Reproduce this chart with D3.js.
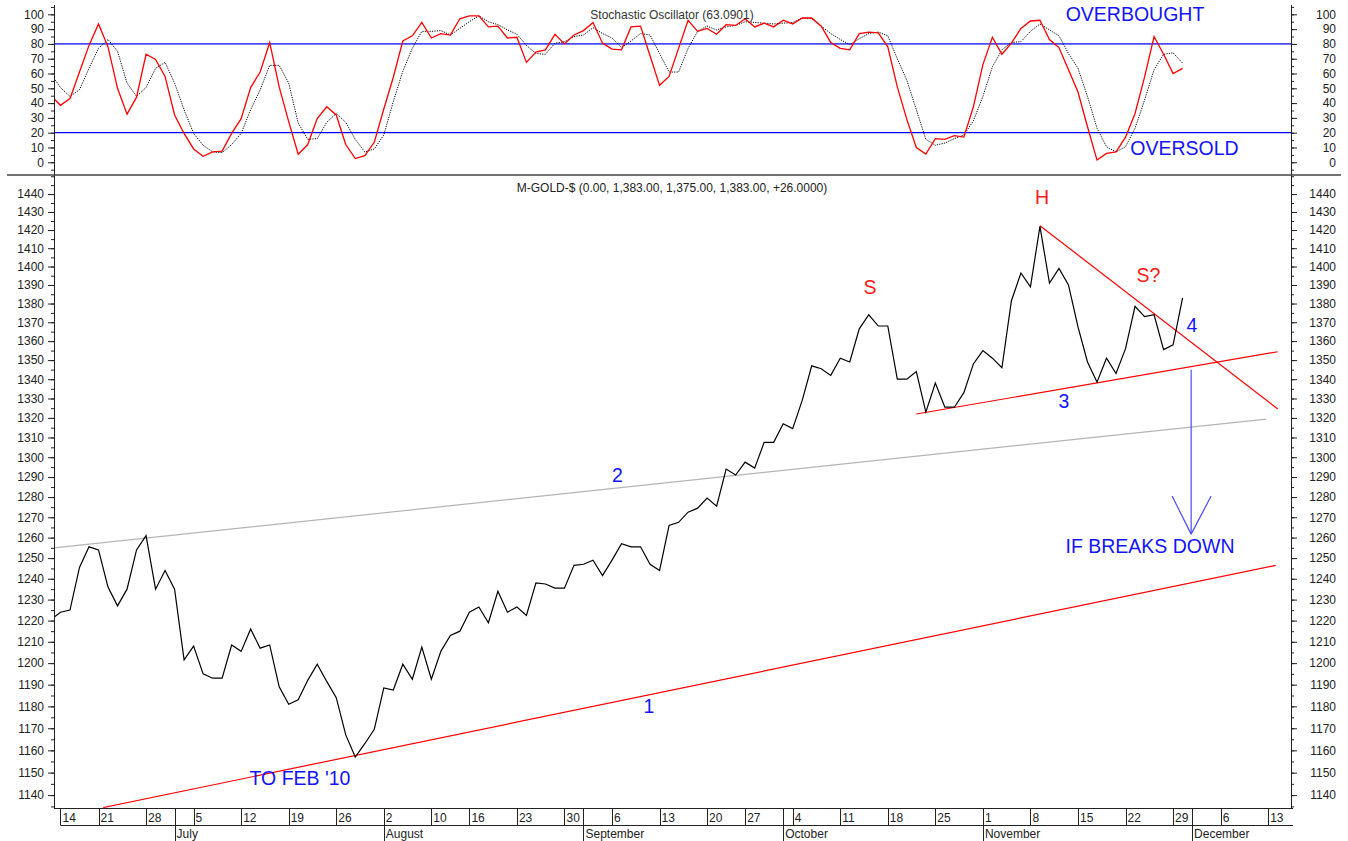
<!DOCTYPE html>
<html lang="en">
<head>
<meta charset="UTF-8">
<title>M-GOLD-$ with Stochastic Oscillator</title>
<script src="https://d3js.org/d3.v7.min.js"></script>
<style>
  body { margin: 0; background: #fff; }
  svg { display: block; background: #fff; font-family: "Liberation Sans", Arial, sans-serif; }
  .tick line { stroke: #222; }
  .tick text { fill: #222; font-size: 12px; }
</style>
</head>
<body>
<svg width="1348" height="841"></svg>
<script>
// trading-day index of the first value (index 0 = Jun 14)
const firstIndex = -1;

// daily close, M-GOLD-$
const price = [
  1220.5, 1224, 1225, 1245.5, 1255.5, 1254, 1236, 1227, 1235, 1254,
  1261, 1235, 1244, 1235, 1201.5, 1208, 1195, 1193, 1193, 1208.5,
  1205.5, 1216, 1207, 1208.5, 1189, 1181, 1183, 1192, 1199.5, 1191.5,
  1184, 1167, 1157, 1163, 1169.5, 1188.5, 1187.5, 1199.5, 1192.5, 1207.5,
  1192.5, 1205.5, 1213, 1215, 1224, 1226.5, 1219, 1234, 1224, 1226.5,
  1222.5, 1238, 1237.5, 1235.5, 1235.5, 1246.5, 1247, 1249, 1241.5, 1249,
  1257, 1255.5, 1255.5, 1247, 1244, 1266, 1267.5, 1272.5, 1274.5, 1279.5,
  1275.5, 1294, 1291, 1297.5, 1294.5, 1307.5, 1307.5, 1317, 1314.5, 1329,
  1347, 1345.5, 1342, 1351, 1349, 1366.5, 1374, 1368, 1368, 1340,
  1340, 1344, 1323, 1338, 1325.5, 1325.5, 1333, 1348, 1355, 1351,
  1346, 1381.5, 1396.5, 1389, 1422, 1391, 1399, 1390, 1367.5, 1349,
  1338.5, 1351, 1343, 1356, 1378.5, 1373, 1374, 1355.5, 1358, 1383
];

// stochastic %K (red)
const stochK = [
  45, 38.5, 43, 61, 79, 93.5, 78, 50, 32.5, 44,
  73, 69.5, 58, 32, 19.5, 9, 4, 7, 7.5, 19.5,
  29.5, 50.5, 61, 81, 51, 27.5, 5.5, 12, 29.5, 37.5,
  32, 12, 2.5, 4.5, 13.5, 36, 57.5, 82, 85.5, 94.5,
  84, 87, 86, 97, 99, 99, 91.5, 92, 84, 84.5,
  67.5, 74.5, 76, 86.5, 80, 86, 89, 94.5, 80.5, 76.5,
  76, 91.5, 92, 72, 52, 58, 77, 96, 88.5, 90.5,
  86.5, 93, 92.5, 97, 91.5, 94, 91.5, 96, 93.5, 97.5,
  97.5, 92, 81, 77, 76, 87, 88, 87.5, 78, 51,
  29, 10, 5.5, 16, 15.5, 18, 17, 37.5, 66, 84.5,
  73, 80.5, 90.5, 95.5, 96, 83, 77.5, 62.5, 47.5, 24,
  1.5, 6, 7, 17, 33, 57.5, 85, 73, 60, 63.5
];

// stochastic %D (black dotted)
const stochD = [
  59.7, 50.5, 44.5, 49, 63.5, 77, 83, 75, 53.5, 44.5,
  50.5, 63.5, 67.5, 53.5, 35.5, 19.5, 11.5, 7, 6.5, 12,
  19.5, 35.5, 49, 65.5, 65.5, 53.5, 26.5, 15.5, 16, 27,
  33, 27, 15.5, 7, 9, 18.5, 41, 61.5, 77, 88.5,
  88.5, 89, 86, 90.5, 95, 99, 95, 93, 89.5, 86.5,
  79, 73.5, 73, 80.5, 81.5, 85, 86, 91, 87, 84,
  77.5, 82, 87, 86, 73.5, 61, 61, 77, 88.5, 92,
  89.5, 91.5, 92.5, 95, 94.5, 94, 93.5, 94, 94.5, 97.5,
  97, 92, 87, 83, 79.5, 83.5, 87, 88, 85.5, 70,
  55.5, 35.5, 15.5, 11.5, 13, 16, 18.5, 28, 44.5, 64.5,
  76, 81, 81.5, 88.5, 93.5, 89.5, 85.5, 73.5, 63.5, 44.5,
  23, 10.5, 7, 10.5, 23, 42, 62.5, 73, 74, 67
];

// x-axis: [trading-day index, label]
const weekTicks = [
  [0, "14"], [4, "21"], [9, "28"], [14, "5"], [19, "12"], [24, "19"], [29, "26"],
  [34, "2"], [39, "10"], [43, "16"], [48, "23"], [53, "30"], [58, "6"], [63, "13"],
  [68, "20"], [72, "27"], [77, "4"], [82, "11"], [87, "18"], [92, "25"], [97, "1"],
  [102, "8"], [107, "15"], [112, "22"], [117, "29"], [122, "6"], [127, "13"]
];
const monthTicks = [
  [12, "July"], [34, "August"], [55, "September"], [76, "October"],
  [97, "November"], [119, "December"]
];

const priceTicks = d3.range(1140, 1441, 10);
const priceMinor = d3.range(1135, 1451, 5);
const stochTicks = d3.range(0, 101, 10);
const stochMinor = d3.range(-5, 106, 5);
const stochLevels = [80, 20];

// drawn trend lines: [index, price] end points
const trendLines = [
  { from: [4.5, 1134.5], to: [127.8, 1246.5], color: "#ff0000" },   // 1
  { from: [-0.68, 1255], to: [126.8, 1319.4], color: "#b4b4b4" },   // 2
  { from: [90, 1322], to: [128, 1354.4], color: "#ff0000" },        // 3
  { from: [103, 1422.4], to: [128, 1324.6], color: "#ff0000" }      // 4
];
// target arrow: index, top, tip, wing level, wing indices
const arrow = { i: 118.9, top: 1345, tip: 1261.7, wing: 1280.5, wingL: 116.9, wingR: 121 };

const svg = d3.select("svg");
const xL = 54, xR = 1291;
const stochTop = 5, panelSplit = 175, priceBottom = 808;

const x = d3.scaleLinear().domain([-0.68, 129.4]).range([xL, xR]);
const yS = d3.scaleLinear().domain([-8.6, 106.3]).range([panelSplit, stochTop]);
const yP = d3.scaleLog().domain([1134.3, 1450.7]).range([priceBottom, panelSplit]);

const defs = svg.append("defs");
defs.append("clipPath").attr("id", "clipS").append("rect")
  .attr("x", xL).attr("y", stochTop).attr("width", xR - xL).attr("height", panelSplit - stochTop);
defs.append("clipPath").attr("id", "clipP").append("rect")
  .attr("x", xL).attr("y", panelSplit).attr("width", xR - xL).attr("height", priceBottom - panelSplit);

const idx = (d, i) => x(firstIndex + i);

// ---- stochastic panel ----
const gS = svg.append("g").attr("clip-path", "url(#clipS)");

gS.selectAll(".level").data(stochLevels).enter().append("line")
  .attr("x1", xL).attr("x2", xR)
  .attr("y1", d => yS(d)).attr("y2", d => yS(d))
  .attr("stroke", d => d === 80 ? "#4a4aff" : "#0000ff")
  .attr("stroke-width", d => d === 80 ? 1.6 : 1.3);

gS.append("path").datum(stochD)
  .attr("fill", "none").attr("stroke", "#000").attr("stroke-width", 1)
  .attr("stroke-dasharray", "1.2 1.2")
  .attr("d", d3.line().x(idx).y(d => yS(d)));

gS.append("path").datum(stochK)
  .attr("fill", "none").attr("stroke", "#ff0000").attr("stroke-width", 1.3)
  .attr("d", d3.line().x(idx).y(d => yS(d)));

svg.append("text").attr("x", 672).attr("y", 18.5).attr("text-anchor", "middle")
  .attr("font-size", 12).attr("fill", "#333").text("Stochastic Oscillator (63.0901)");

// ---- price panel ----
const gP = svg.append("g").attr("clip-path", "url(#clipP)");

gP.selectAll(".trend").data(trendLines).enter().append("line")
  .attr("x1", d => x(d.from[0])).attr("y1", d => yP(d.from[1]))
  .attr("x2", d => x(d.to[0])).attr("y2", d => yP(d.to[1]))
  .attr("stroke", d => d.color).attr("stroke-width", 1.2);

gP.append("path").datum(price)
  .attr("fill", "none").attr("stroke", "#000").attr("stroke-width", 1.2)
  .attr("d", d3.line().x(idx).y(d => yP(d)));

const ga = gP.append("g").attr("stroke", "#4a4aff").attr("stroke-width", 1.2);
ga.append("line").attr("x1", x(arrow.i)).attr("x2", x(arrow.i))
  .attr("y1", yP(arrow.top)).attr("y2", yP(arrow.tip));
ga.append("line").attr("x1", x(arrow.wingL)).attr("y1", yP(arrow.wing))
  .attr("x2", x(arrow.i)).attr("y2", yP(arrow.tip));
ga.append("line").attr("x1", x(arrow.wingR)).attr("y1", yP(arrow.wing))
  .attr("x2", x(arrow.i)).attr("y2", yP(arrow.tip));

svg.append("text").attr("x", 672).attr("y", 192).attr("text-anchor", "middle")
  .attr("font-size", 12).attr("fill", "#222")
  .text("M-GOLD-$ (0.00, 1,383.00, 1,375.00, 1,383.00, +26.0000)");

// annotations
const notes = [
  ["OVERBOUGHT", 1135, 21, "#1414ff"], ["OVERSOLD", 1184.5, 155, "#1414ff"],
  ["S", 870, 294, "#ff1a1a"], ["H", 1042, 204, "#ff1a1a"], ["S?", 1148.5, 282, "#ff1a1a"],
  ["4", 1192, 332, "#1414ff"], ["3", 1064, 408, "#1414ff"], ["2", 617.5, 482, "#1414ff"],
  ["1", 649, 713, "#1414ff"], ["TO FEB '10", 300, 785, "#1414ff"],
  ["IF BREAKS DOWN", 1150, 553, "#1414ff"]
];
svg.selectAll(".note").data(notes).enter().append("text")
  .attr("x", d => d[1]).attr("y", d => d[2]).attr("text-anchor", "middle")
  .attr("font-size", 19.5).attr("fill", d => d[3]).text(d => d[0]);

// ---- axes ----
function yAxes(scale, major, minor, top, bottom, fmt) {
  const left = svg.append("g").attr("transform", `translate(${xL},0)`);
  left.call(d3.axisLeft(scale).tickValues(minor).tickSize(3).tickFormat(""));
  left.call(g => g.select(".domain").remove());
  const leftMaj = svg.append("g").attr("transform", `translate(${xL},0)`);
  leftMaj.call(d3.axisLeft(scale).tickValues(major).tickSize(6).tickPadding(4).tickFormat(fmt));
  leftMaj.call(g => g.select(".domain").remove());

  const right = svg.append("g").attr("transform", `translate(${xR},0)`);
  right.call(d3.axisRight(scale).tickValues(minor).tickSize(3).tickFormat(""));
  right.call(g => g.select(".domain").remove());
  const rightMaj = svg.append("g").attr("transform", `translate(${xR},0)`);
  rightMaj.call(d3.axisRight(scale).tickValues(major).tickSize(6).tickFormat(fmt));
  rightMaj.call(g => g.select(".domain").remove());
  rightMaj.selectAll("text").attr("text-anchor", "end").attr("x", 45);

  [xL, xR].forEach(px => svg.append("line")
    .attr("x1", px + 0.5).attr("x2", px + 0.5).attr("y1", top).attr("y2", bottom)
    .attr("stroke", "#222").attr("stroke-width", 1));
}
yAxes(yS, stochTicks, stochMinor, stochTop, panelSplit, d3.format("d"));
yAxes(yP, priceTicks, priceMinor, panelSplit, priceBottom, d3.format("d"));

svg.selectAll(".tick text").attr("font-size", 12);

// panel separator
svg.append("line").attr("x1", 7).attr("x2", 1341).attr("y1", panelSplit).attr("y2", panelSplit)
  .attr("stroke", "#444").attr("stroke-width", 1.5);

// date rows
const rowTop = priceBottom, rowMid = 825, rowBot = 841;
svg.append("line").attr("x1", xL).attr("x2", xR + 2).attr("y1", rowTop + 0.5).attr("y2", rowTop + 0.5)
  .attr("stroke", "#222");
svg.append("line").attr("x1", x(0)).attr("x2", xR + 2).attr("y1", rowMid + 0.5).attr("y2", rowMid + 0.5)
  .attr("stroke", "#222");

const gW = svg.append("g");
gW.selectAll("line").data(weekTicks).enter().append("line")
  .attr("x1", d => Math.round(x(d[0])) + 0.5).attr("x2", d => Math.round(x(d[0])) + 0.5)
  .attr("y1", rowTop).attr("y2", rowMid).attr("stroke", "#222");
gW.selectAll("text").data(weekTicks).enter().append("text")
  .attr("x", d => x(d[0]) + 2).attr("y", 822).attr("font-size", 12).attr("fill", "#222")
  .text(d => d[1]);

const gM = svg.append("g");
gM.selectAll("line").data(monthTicks).enter().append("line")
  .attr("x1", d => Math.round(x(d[0])) + 0.5).attr("x2", d => Math.round(x(d[0])) + 0.5)
  .attr("y1", rowTop).attr("y2", rowBot).attr("stroke", "#222");
gM.selectAll("text").data(monthTicks).enter().append("text")
  .attr("x", d => x(d[0]) + 2).attr("y", 838).attr("font-size", 12).attr("fill", "#222")
  .text(d => d[1]);
</script>
</body>
</html>
